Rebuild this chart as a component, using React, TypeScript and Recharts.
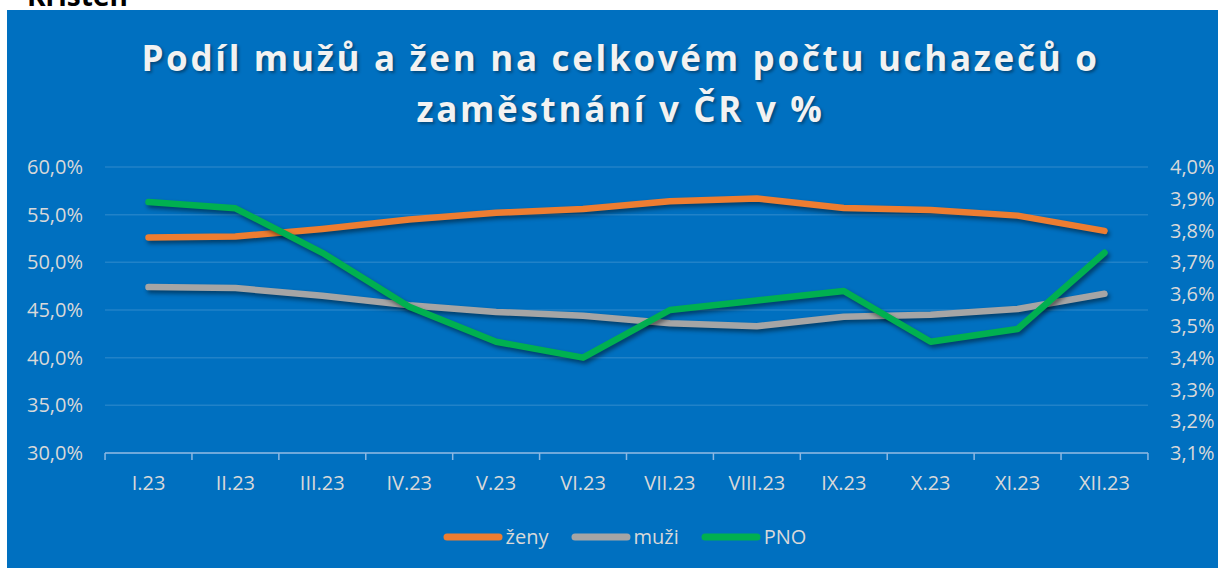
import { LineChart, Line, XAxis, YAxis, CartesianGrid } from 'recharts';

const months = ['I.23', 'II.23', 'III.23', 'IV.23', 'V.23', 'VI.23', 'VII.23', 'VIII.23', 'IX.23', 'X.23', 'XI.23', 'XII.23'];
const zeny = [52.6, 52.7, 53.5, 54.5, 55.2, 55.6, 56.4, 56.7, 55.7, 55.5, 54.9, 53.3];
const muzi = [47.4, 47.3, 46.5, 45.5, 44.8, 44.4, 43.6, 43.3, 44.3, 44.5, 45.1, 46.7];
const pno = [3.89, 3.87, 3.73, 3.56, 3.45, 3.4, 3.55, 3.58, 3.61, 3.45, 3.49, 3.73];
const leftTicks = [30, 35, 40, 45, 50, 55, 60];
const rightTicks = [3.1, 3.2, 3.3, 3.4, 3.5, 3.6, 3.7, 3.8, 3.9, 4.0];

const series = [
    { key: 'zeny', name: 'ženy', color: '#ED7D31', axis: 'left' },
    { key: 'muzi', name: 'muži', color: '#A5A5A5', axis: 'left' },
    { key: 'pno', name: 'PNO', color: '#00B050', axis: 'right' },
];

const data = months.map((m, i) => ({ month: m, zeny: zeny[i], muzi: muzi[i], pno: pno[i] }));

const W = 1211;
const H = 558;
const LEFT_W = 98;
const RIGHT_W = 70;
const PAD = 43.5;
const STEP = (W - LEFT_W - RIGHT_W - 2 * PAD) / (months.length - 1);

const font = '"Open Sans", "Noto Sans", sans-serif';
const pct = (v: number) => v.toFixed(1).replace('.', ',') + '%';

function XTick(props: any) {
    const { x, y, payload, index } = props;
    const tickColor = '#8DB8E2';
    return (
        <g>
            <line x1={x - STEP / 2} x2={x - STEP / 2} y1={y} y2={y + 7} stroke={tickColor} strokeWidth={1.5} />
            {index === months.length - 1 && (
                <line x1={x + STEP / 2} x2={x + STEP / 2} y1={y} y2={y + 7} stroke={tickColor} strokeWidth={1.5} />
            )}
            <text x={x} y={y + 23} dy="0.71em" textAnchor="middle" fill="#D9D9D9" fontSize={20} fontFamily={font}>
                {payload.value}
            </text>
        </g>
    );
}

export default function App() {
    return (
        <div>
            <style>{`
                body { margin: 0; background: #fff; }
                .recharts-line-curve { filter: drop-shadow(2px 3px 2px rgba(0,0,0,0.45)); }
            `}</style>
            <div style={{ position: 'absolute', left: 27, top: -24, fontFamily: font, fontWeight: 700, fontSize: 28, color: '#000' }}>
                Kristen
            </div>
            <div style={{ position: 'absolute', left: 7, top: 10, width: W, height: H, background: '#0070C0', overflow: 'hidden' }}>
                <div
                    style={{
                        position: 'absolute',
                        top: 22,
                        left: 8,
                        width: W,
                        textAlign: 'center',
                        color: '#F2F2F2',
                        fontFamily: font,
                        fontWeight: 700,
                        fontSize: 35,
                        lineHeight: '51px',
                        letterSpacing: 2.7,
                        textShadow: '2px 2px 3px rgba(0,0,0,0.35)',
                    }}
                >
                    Podíl mužů a žen na celkovém počtu uchazečů o
                    <br />
                    zaměstnání v ČR v %
                </div>

                <LineChart width={W} height={H} data={data} margin={{ top: 157, right: 0, bottom: 0, left: 0 }}>
                    <CartesianGrid yAxisId="left" vertical={false} stroke="rgba(255,255,255,0.13)" strokeWidth={1.5} />
                    <XAxis
                        dataKey="month"
                        height={115}
                        padding={{ left: PAD, right: PAD }}
                        axisLine={{ stroke: '#8DB8E2', strokeWidth: 1.5 }}
                        tickLine={false}
                        tickSize={0}
                        tickMargin={0}
                        interval={0}
                        tick={<XTick />}
                    />
                    <YAxis
                        yAxisId="left"
                        orientation="left"
                        width={LEFT_W}
                        domain={[30, 60]}
                        ticks={leftTicks}
                        tickFormatter={pct}
                        axisLine={false}
                        tickLine={false}
                        tickSize={0}
                        tickMargin={22}
                        tick={{ fill: '#D9D9D9', fontSize: 20, fontFamily: font }}
                    />
                    <YAxis
                        yAxisId="right"
                        orientation="right"
                        width={RIGHT_W}
                        domain={[3.1, 4.0]}
                        ticks={rightTicks}
                        tickFormatter={pct}
                        axisLine={false}
                        tickLine={false}
                        tickSize={0}
                        tickMargin={22}
                        tick={{ fill: '#D9D9D9', fontSize: 20, fontFamily: font }}
                    />
                    {series.map((s) => (
                        <Line
                            key={s.key}
                            yAxisId={s.axis}
                            dataKey={s.key}
                            name={s.name}
                            type="linear"
                            stroke={s.color}
                            strokeWidth={6.5}
                            strokeLinecap="round"
                            strokeLinejoin="round"
                            dot={false}
                            activeDot={false}
                            isAnimationActive={false}
                        />
                    ))}
                </LineChart>

                <div
                    style={{
                        position: 'absolute',
                        top: 513,
                        left: 12,
                        width: W,
                        display: 'flex',
                        justifyContent: 'center',
                        gap: 22,
                        fontFamily: font,
                        fontSize: 20,
                        color: '#D9D9D9',
                    }}
                >
                    {series.map((s) => (
                        <div key={s.key} style={{ display: 'flex', alignItems: 'center' }}>
                            <svg width={60} height={10} style={{ marginRight: 3 }}>
                                <line x1={4} x2={56} y1={5} y2={5} stroke={s.color} strokeWidth={7} strokeLinecap="round" />
                            </svg>
                            <span>{s.name}</span>
                        </div>
                    ))}
                </div>
            </div>
        </div>
    );
}
